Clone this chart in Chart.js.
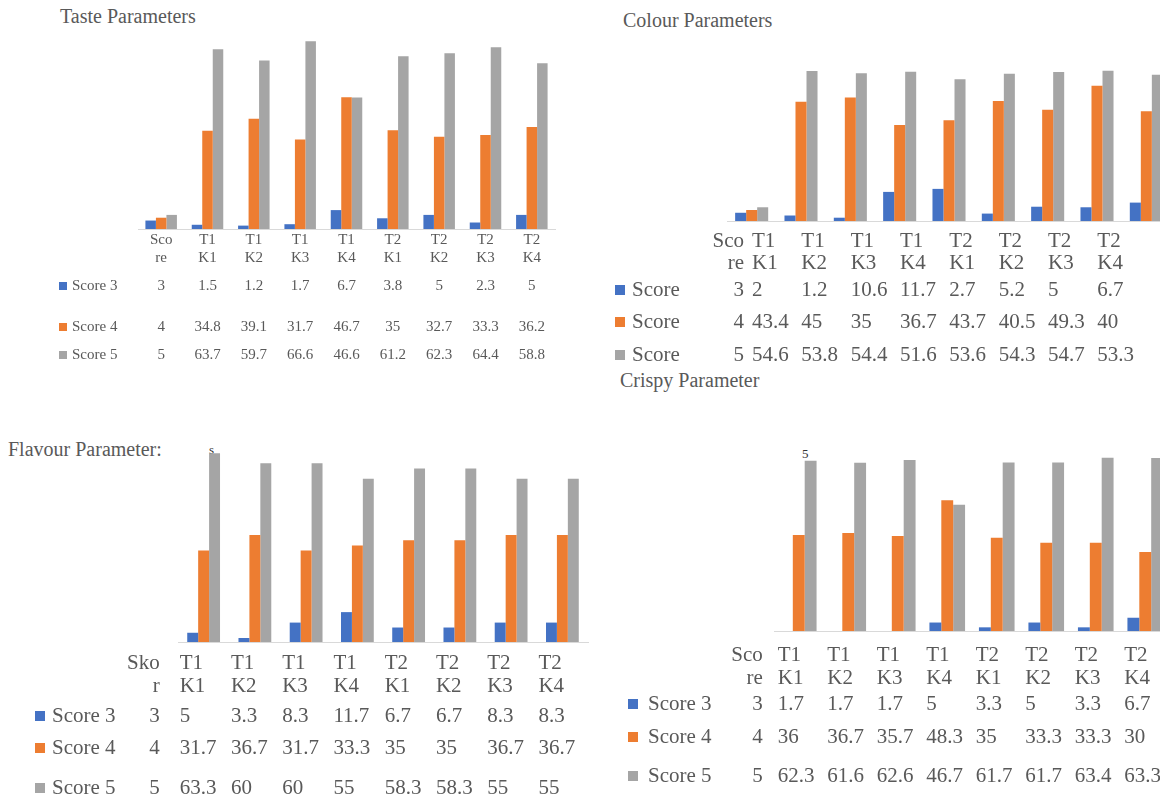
<!DOCTYPE html>
<html>
<head>
<meta charset="utf-8">
<script src="https://cdn.jsdelivr.net/npm/chart.js@4.4.1/dist/chart.umd.min.js"></script>
<style>
  body { margin:0; width:1160px; height:798px; overflow:hidden; background:#fff; position:relative;
         font-family:'Liberation Serif', 'Times New Roman', serif; color:#595959; }
  .box { position:absolute; }
  .title { position:absolute; font-size:20px; white-space:nowrap; }
  .stray { position:absolute; font-size:13px; color:#333; }
</style>
</head>
<body>
<div class="title" style="left:60px;top:5px">Taste Parameters</div>
<div class="title" style="left:623px;top:9px">Colour Parameters</div>
<div class="title" style="left:8px;top:438px">Flavour Parameter:</div>
<div class="title" style="left:620px;top:369px">Crispy Parameter</div>
<div class="stray" style="left:209px;top:442px">s</div>
<div class="stray" style="left:802px;top:446px">5</div>

<div class="box" style="left:0;top:0;width:600px;height:380px"><canvas id="taste"></canvas></div>
<div class="box" style="left:600px;top:0;width:575px;height:400px"><canvas id="colour"></canvas></div>
<div class="box" style="left:0;top:420px;width:600px;height:378px"><canvas id="flavour"></canvas></div>
<div class="box" style="left:600px;top:420px;width:575px;height:378px"><canvas id="crispy"></canvas></div>

<script>
// categories (first column is the score itself)
const categories = ['Score', 'T1 K1', 'T1 K2', 'T1 K3', 'T1 K4', 'T2 K1', 'T2 K2', 'T2 K3', 'T2 K4'];
const scoreHeadEn = ['Sco', 're'];
const scoreHeadId = ['Sko', 'r'];
const seriesNames = ['Score 3', 'Score 4', 'Score 5'];

const tasteScore3 = [3, 1.5, 1.2, 1.7, 6.7, 3.8, 5, 2.3, 5];
const tasteScore4 = [4, 34.8, 39.1, 31.7, 46.7, 35, 32.7, 33.3, 36.2];
const tasteScore5 = [5, 63.7, 59.7, 66.6, 46.6, 61.2, 62.3, 64.4, 58.8];

const colourScore3 = [3, 2, 1.2, 10.6, 11.7, 2.7, 5.2, 5, 6.7];
const colourScore4 = [4, 43.4, 45, 35, 36.7, 43.7, 40.5, 49.3, 40];
const colourScore5 = [5, 54.6, 53.8, 54.4, 51.6, 53.6, 54.3, 54.7, 53.3];

const flavourScore3 = [3, 5, 3.3, 8.3, 11.7, 6.7, 6.7, 8.3, 8.3];
const flavourScore4 = [4, 31.7, 36.7, 31.7, 33.3, 35, 35, 36.7, 36.7];
const flavourScore5 = [5, 63.3, 60, 60, 55, 58.3, 58.3, 55, 55];

const crispyScore3 = [3, 1.7, 1.7, 1.7, 5, 3.3, 5, 3.3, 6.7];
const crispyScore4 = [4, 36, 36.7, 35.7, 48.3, 35, 33.3, 33.3, 30];
const crispyScore5 = [5, 62.3, 61.6, 62.6, 46.7, 61.7, 61.7, 63.4, 63.3];

const COLORS = ['#4472C4', '#ED7D31', '#A5A5A5'];
const TEXT = '#595959';
const FONT = '"Liberation Serif", "Times New Roman", serif';

function headerLines(head) {
  return [head].concat(categories.slice(1).map(c => c.split(' ')));
}

// panel layout, page coordinates
const panels = [
  { id: 'taste', series: [tasteScore3, tasteScore4, tasteScore5], headers: headerLines(scoreHeadEn),
    box: { left: 0, top: 0, width: 600, height: 380 }, area: { left: 138, right: 555, top: 40, bottom: 229 },
    xMin: 0, yMin: 0, yMax: 67, cat: 0.68, font: 15, headerY: [240, 258], rowY: [286, 327, 355],
    markerX: 59, marker: 8, textX: 72, legend: seriesNames, align: 'center', shift: 0, gap: 0 },
  { id: 'colour', series: [colourScore3, colourScore4, colourScore5], headers: headerLines(scoreHeadEn),
    box: { left: 600, top: 0, width: 575, height: 400 }, area: { left: 727, right: 1171, top: 70, bottom: 221 },
    xMin: 0, yMin: 0, yMax: 55, cat: 0.67, font: 21, headerY: [241, 263], rowY: [290, 322, 355],
    markerX: 615, marker: 10, textX: 632, legend: ['Score', 'Score', 'Score'], align: 'left', shift: -49, gap: 8 },
  { id: 'flavour', series: [flavourScore3, flavourScore4, flavourScore5], headers: headerLines(scoreHeadId),
    box: { left: 0, top: 420, width: 600, height: 378 }, area: { left: 178, right: 588, top: 451, bottom: 642 },
    xMin: 1, yMin: 2, yMax: 64, cat: 0.64, font: 21, headerY: [663, 686], rowY: [716, 748, 788],
    markerX: 35, marker: 10, textX: 52, legend: seriesNames, align: 'left', shift: -24, gap: 20 },
  { id: 'crispy', series: [crispyScore3, crispyScore4, crispyScore5], headers: headerLines(scoreHeadEn),
    box: { left: 600, top: 420, width: 575, height: 378 }, area: { left: 774, right: 1170, top: 456, bottom: 631 },
    xMin: 1, yMin: 2, yMax: 64, cat: 0.72, font: 21, headerY: [655, 678], rowY: [704, 737, 776],
    markerX: 628, marker: 10, textX: 648, legend: seriesNames, align: 'left', shift: -21, gap: 15 }
];

function tablePlugin(p) {
  return {
    id: 'dataTable',
    afterDraw(chart) {
      const ctx = chart.ctx;
      const x = chart.scales.x;
      const top = p.box.top;
      const colX = i => x.getPixelForValue(i) + p.shift;
      const place = (txt, i, y) => {
        if (p.align === 'center') {
          ctx.textAlign = 'center';
          ctx.fillText(txt, colX(i), y - top);
        } else if (i === 0) {
          ctx.textAlign = 'right';
          ctx.fillText(txt, colX(1) - p.gap, y - top);
        } else {
          ctx.textAlign = 'left';
          ctx.fillText(txt, colX(i), y - top);
        }
      };
      ctx.save();
      ctx.font = p.font + 'px ' + FONT;
      ctx.textBaseline = 'middle';
      ctx.fillStyle = TEXT;
      p.headers.forEach((lines, i) => lines.forEach((t, k) => place(t, i, p.headerY[k])));
      p.series.forEach((vals, s) => {
        const y = p.rowY[s] - top;
        ctx.fillStyle = COLORS[s];
        ctx.fillRect(p.markerX - p.box.left, y - p.marker / 2, p.marker, p.marker);
        ctx.fillStyle = TEXT;
        ctx.textAlign = 'left';
        ctx.fillText(p.legend[s], p.textX - p.box.left, y);
        vals.forEach((v, i) => place(String(v), i, p.rowY[s]));
      });
      ctx.restore();
    }
  };
}

panels.forEach(p => {
  const pad = {
    left: p.area.left - p.box.left,
    right: p.box.left + p.box.width - p.area.right,
    top: p.area.top - p.box.top,
    bottom: p.box.top + p.box.height - p.area.bottom
  };
  new Chart(document.getElementById(p.id), {
    type: 'bar',
    data: {
      labels: categories,
      datasets: p.series.map((d, s) => ({
        label: seriesNames[s],
        data: d,
        backgroundColor: COLORS[s],
        categoryPercentage: p.cat,
        barPercentage: 1,
        clip: 0
      }))
    },
    options: {
      responsive: true,
      maintainAspectRatio: false,
      animation: false,
      layout: { padding: pad },
      plugins: { legend: { display: false }, tooltip: { enabled: false } },
      scales: {
        x: {
          min: p.xMin,
          grid: { display: false, drawTicks: false, tickLength: 0 },
          ticks: { display: false, padding: 0 },
          border: { display: true, color: '#D9D9D9' }
        },
        y: { display: false, min: p.yMin, max: p.yMax }
      }
    },
    plugins: [tablePlugin(p)]
  });
});
</script>
</body>
</html>
